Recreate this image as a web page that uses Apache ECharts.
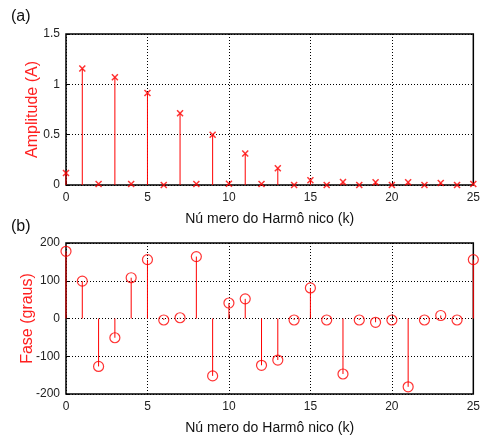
<!DOCTYPE html>
<html>
<head>
<meta charset="utf-8">
<script src="https://cdn.jsdelivr.net/npm/echarts@6/dist/echarts.min.js"></script>
<style>html,body{margin:0;padding:0;background:#fff}#c{width:483px;height:438px}</style>
</head>
<body>
<div id="c"></div>
<script>
const harmonics = [0,1,2,3,4,5,6,7,8,9,10,11,12,13,14,15,16,17,18,19,20,21,22,23,24,25];
const amplitude = [0.12,1.157,0.01,1.07,0.01,0.913,0.0,0.713,0.01,0.5,0.013,0.313,0.01,0.167,0.0,0.047,0.0,0.03,0.0,0.027,0.0,0.027,0.0,0.02,0.0,0.01];
const phase = [178,99,-127,-51,108,156,-4,2,164,-152,41,52,-124,-110,-4,81,-4,-147,-4,-10,-4,-181,-4,8,-4,156];
const xLabel = 'Nú mero do Harmô nico (k)';
const ampLabel = 'Amplitude (A)';
const phaseLabel = 'Fase (graus)';

const FONT = 'Liberation Sans, Arial, sans-serif';
const ampData = harmonics.map((k,i)=>[k, amplitude[i]]);
const phaseData = harmonics.map((k,i)=>[k, phase[i]]);

function stem(params, api){
  const p0 = api.coord([api.value(0), 0]);
  const p1 = api.coord([api.value(0), api.value(1)]);
  return {type:'line', shape:{x1:p0[0],y1:p0[1],x2:p1[0],y2:p1[1]}, style:{stroke:'#ff0000', lineWidth:1}};
}

function xAx(gi){
  return {
    type:'value', gridIndex:gi, min:0, max:25, interval:5,
    name: xLabel, nameLocation:'middle', nameGap:27, nameMoveOverlap:false,
    nameTextStyle:{fontFamily:FONT, fontSize:14, color:'#111'},
    axisLine:{show:false}, axisTick:{show:true, inside:true, length:4, lineStyle:{color:'#000'}},
    axisLabel:{fontFamily:FONT, fontSize:12, color:'#222', margin:7},
    splitLine:{show:true, lineStyle:{color:'#000', type:[1,2], width:1}}
  };
}
function yAx(gi, min, max, interval, name, gap){
  return {
    type:'value', gridIndex:gi, min:min, max:max, interval:interval,
    name: name, nameLocation:'middle', nameGap:gap, nameRotate:90, nameMoveOverlap:false,
    nameTextStyle:{fontFamily:FONT, fontSize:16, color:'#ff2020'},
    axisLine:{show:false}, axisTick:{show:true, inside:true, length:4, lineStyle:{color:'#000'}},
    axisLabel:{fontFamily:FONT, fontSize:12, color:'#222', margin:6},
    splitLine:{show:true, lineStyle:{color:'#000', type:[1,2], width:1}}
  };
}

const chart = echarts.init(document.getElementById('c'), null, {renderer:'canvas'});
chart.setOption({
  animation:false,
  backgroundColor:'#fff',
  title:[
    {text:'(a)', left:6, top:4, textStyle:{fontFamily:FONT, fontSize:16, fontWeight:'normal', color:'#111'}},
    {text:'(b)', left:6, top:214, textStyle:{fontFamily:FONT, fontSize:16, fontWeight:'normal', color:'#111'}}
  ],
  grid:[
    {left:66, top:34, width:412, height:151, show:true, borderColor:'#000', borderWidth:1.5, backgroundColor:'transparent'},
    {left:66, top:243, width:412, height:151, show:true, borderColor:'#000', borderWidth:1.5, backgroundColor:'transparent'}
  ],
  xAxis:[xAx(0), xAx(1)],
  yAxis:[yAx(0, 0, 1.5, 0.5, ampLabel, 25), yAx(1, -200, 200, 100, phaseLabel, 30)],
  series:[
    {type:'custom', xAxisIndex:0, yAxisIndex:0, data:ampData, renderItem:stem, encode:{x:0,y:1}, clip:false},
    {type:'scatter', xAxisIndex:0, yAxisIndex:0, data:ampData, clip:false,
     symbol:'path://M0,0L10,10M10,0L0,10', symbolSize:6,
     itemStyle:{color:'transparent', borderColor:'#ff0000', borderWidth:1.5}},
    {type:'custom', xAxisIndex:1, yAxisIndex:1, data:phaseData, renderItem:stem, encode:{x:0,y:1}, clip:false},
    {type:'scatter', xAxisIndex:1, yAxisIndex:1, data:phaseData, clip:false,
     symbol:'circle', symbolSize:10,
     itemStyle:{color:'transparent', borderColor:'#ff0000', borderWidth:1.2}}
  ]
});
</script>
</body>
</html>
